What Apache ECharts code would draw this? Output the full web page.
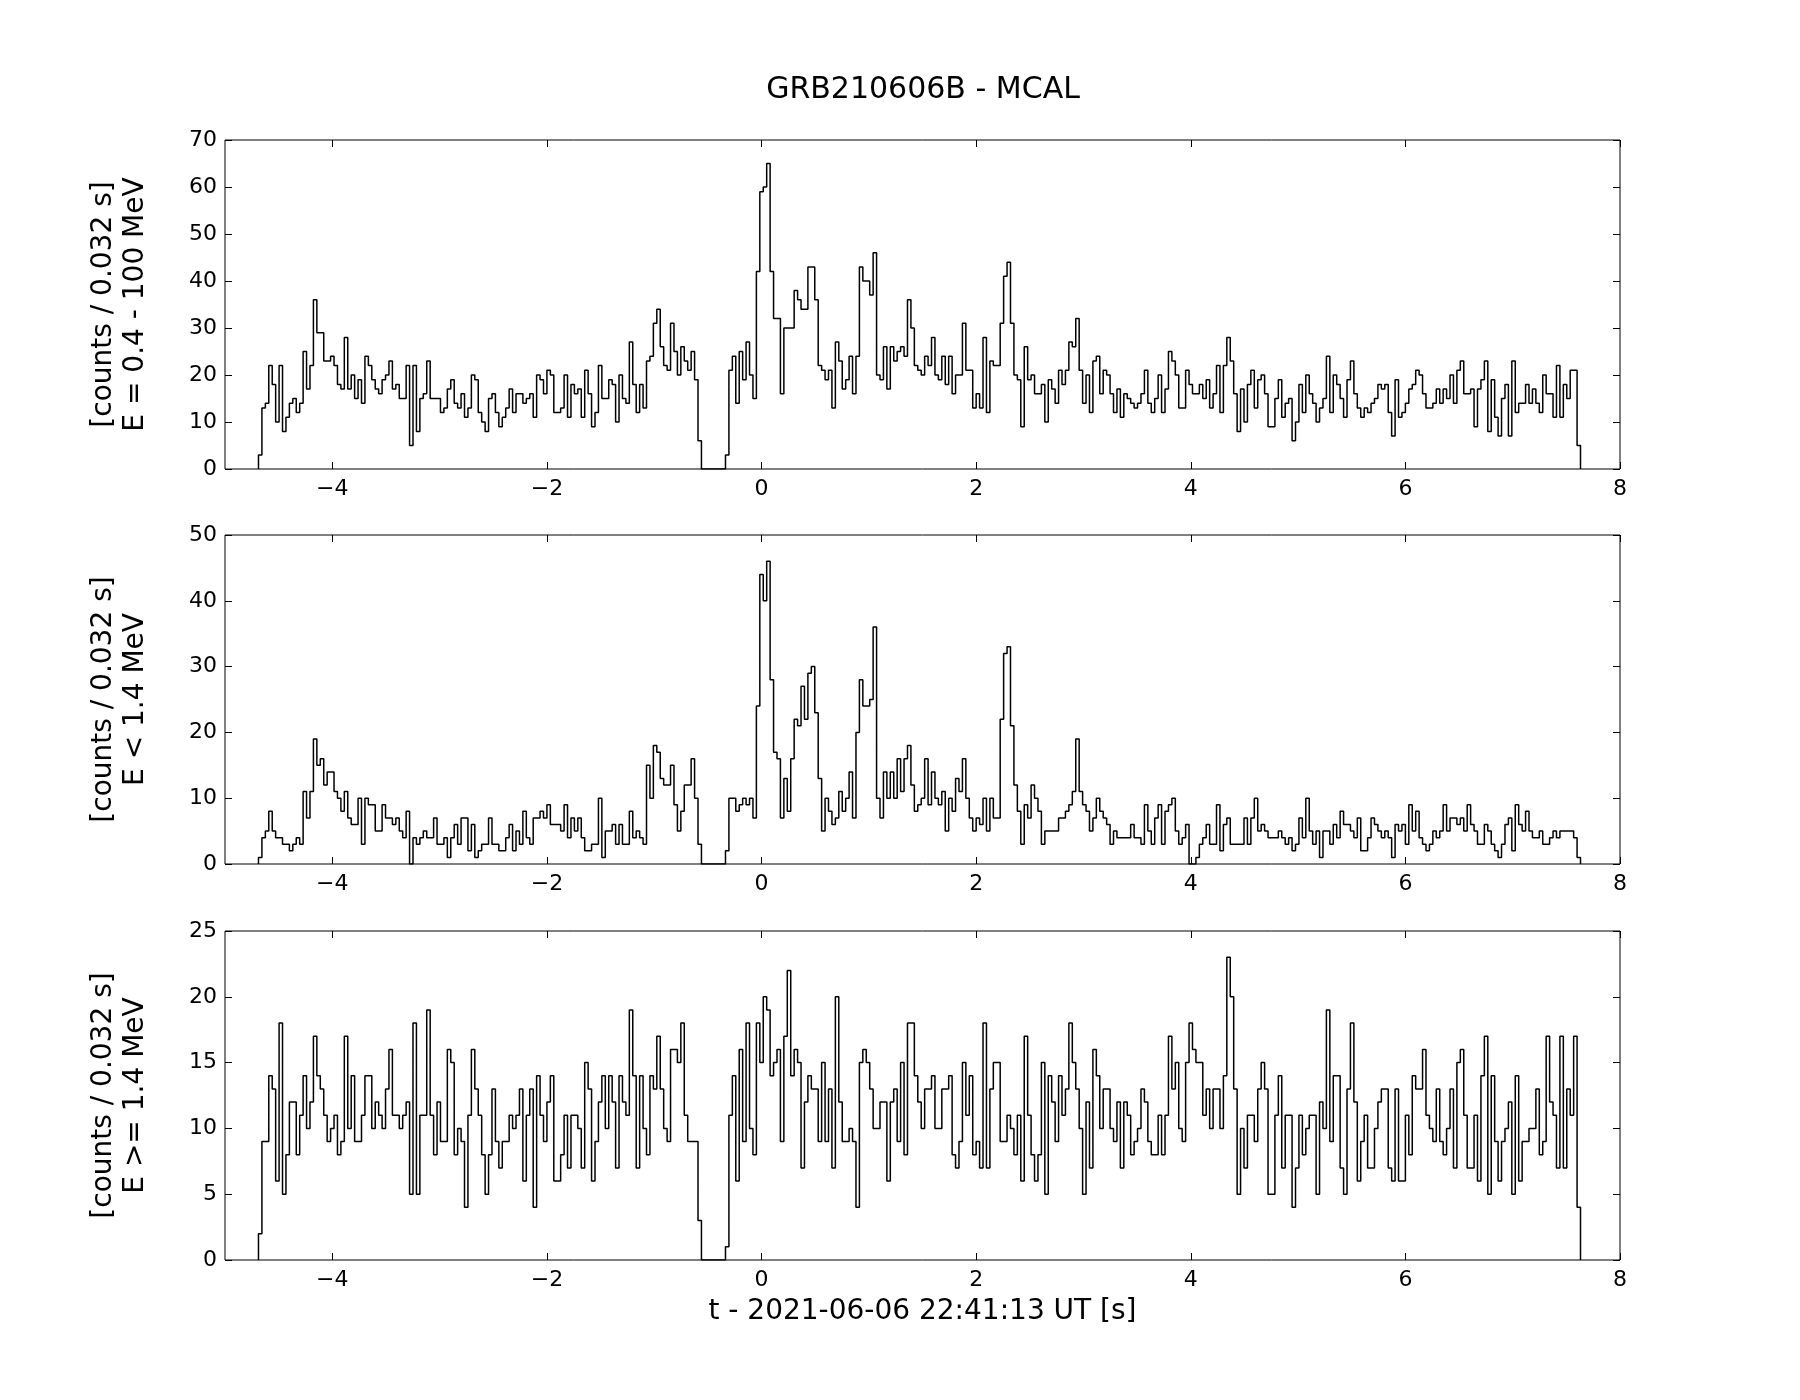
<!DOCTYPE html>
<html><head><meta charset="utf-8">
<script src="https://cdn.jsdelivr.net/npm/echarts@6/dist/echarts.min.js"></script>
<style>html,body{margin:0;padding:0;background:#fff}#c{width:1800px;height:1400px}</style>
</head><body><div id="c"></div>
<script>
// ---- data (bin grid: 0.032 s bins starting at binStart) ----
const binStart = -4.688;
const binWidth = 0.032;

const countsAll = [
  3,13,14,22,18,10,22,8,11,14,
  15,12,14,25,17,22,36,29,29,23,
  23,24,22,18,17,28,17,20,15,19,
  14,24,22,19,17,16,19,20,23,17,
  18,15,15,22,5,22,8,15,16,23,
  15,15,15,12,13,17,19,14,13,16,
  11,13,20,19,12,10,8,15,16,12,
  9,11,13,17,12,16,16,14,15,16,
  11,20,19,16,21,20,12,12,13,20,
  11,18,16,17,11,21,16,9,12,22,
  15,15,19,18,10,20,15,14,27,18,
  12,18,13,23,24,31,34,26,22,21,
  31,25,20,26,23,21,25,19,6,0,
  0,0,0,0,0,0,3,21,24,14,
  25,19,27,20,15,42,59,60,65,42,
  32,32,16,30,30,30,38,36,34,34,
  43,43,36,22,21,19,21,13,27,23,
  17,19,24,16,24,43,40,40,37,46,
  20,19,26,17,26,23,25,26,24,36,
  30,22,21,20,24,22,28,20,19,24,
  18,24,16,20,20,31,21,21,13,16,
  13,28,12,23,22,22,31,41,44,31,
  20,19,9,26,19,20,16,16,18,10,
  19,17,14,21,18,21,27,26,32,21,
  14,20,12,23,24,16,21,20,16,12,
  17,11,16,15,14,13,14,16,21,14,
  12,15,20,12,17,25,23,20,13,13,
  21,18,16,16,18,15,19,13,16,22,
  12,22,28,23,16,8,17,10,18,21,
  13,19,20,16,9,9,15,19,11,14,
  15,6,10,18,12,20,16,14,10,13,
  15,24,12,20,18,15,11,19,23,16,
  13,11,13,12,14,15,18,17,18,12,
  7,19,11,12,14,17,18,21,20,16,
  13,13,14,17,14,17,15,20,14,21,
  23,16,16,17,9,17,19,23,8,19,
  11,7,15,18,7,23,12,14,14,18,
  14,17,14,12,20,16,16,11,22,11,
  18,15,21,21,5
];

const countsLow = [
  1,4,5,8,5,4,4,3,3,2,
  3,4,3,11,7,11,19,15,16,12,
  14,14,11,10,8,11,7,6,6,10,
  3,10,9,9,5,5,9,7,7,6,
  7,5,4,8,0,4,3,4,5,4,
  4,7,3,3,4,1,4,6,3,7,
  7,2,6,1,2,3,3,7,3,3,
  2,2,4,6,2,5,3,8,4,3,
  7,7,8,7,9,6,6,6,5,9,
  4,7,5,7,4,2,2,3,3,10,
  1,5,5,6,3,6,3,3,8,4,
  5,4,3,15,10,18,17,13,12,12,
  15,9,5,8,12,12,16,10,3,0,
  0,0,0,0,0,0,2,10,10,8,
  9,10,9,10,7,24,44,40,46,28,
  17,16,7,13,8,16,22,21,27,22,
  29,30,23,13,5,10,8,6,7,11,
  8,10,14,7,20,28,24,24,25,36,
  10,7,14,10,14,10,16,11,16,18,
  12,8,9,10,16,9,14,10,9,11,
  5,10,8,13,11,16,10,7,5,7,
  6,10,5,10,7,7,22,32,33,21,
  12,8,3,9,7,12,10,8,3,5,
  5,5,5,7,7,8,9,11,19,11,
  9,8,5,7,10,8,7,6,3,5,
  4,4,4,4,6,4,4,3,9,5,
  3,7,9,3,8,9,10,5,3,4,
  6,0,0,1,3,4,6,3,3,9,
  2,6,7,3,3,3,3,7,3,7,
  10,5,6,5,4,4,4,5,4,3,
  4,2,3,7,4,10,5,3,5,1,
  5,5,3,6,4,8,6,6,5,4,
  7,2,2,4,7,6,5,4,5,4,
  1,6,5,6,3,9,5,8,4,3,
  2,3,5,4,5,9,5,7,7,6,
  7,5,9,6,5,3,3,6,5,3,
  2,1,3,6,7,2,9,6,5,8,
  5,4,4,5,3,3,4,5,4,5,
  5,5,5,4,1
];

const countsHigh = [
  2,9,9,14,13,6,18,5,8,12,
  12,8,11,14,10,12,17,14,13,11,
  9,10,11,8,9,17,10,14,9,9,
  11,14,14,10,12,11,10,13,16,11,
  11,10,11,12,5,18,5,11,11,19,
  11,8,12,9,9,16,15,8,10,9,
  4,11,16,13,11,8,5,8,13,9,
  7,9,9,11,10,11,13,6,11,13,
  4,14,11,9,12,14,6,6,8,11,
  7,11,11,10,7,15,13,6,9,12,
  14,10,14,12,7,14,12,11,19,14,
  7,14,10,8,14,13,17,13,10,9,
  16,16,15,18,11,9,9,9,3,0,
  0,0,0,0,0,0,1,11,14,6,
  16,9,18,10,8,18,15,20,19,14,
  15,16,9,17,22,14,16,15,7,12,
  14,13,13,9,15,9,13,7,20,12,
  9,9,10,9,4,15,16,15,13,10,
  10,12,12,6,12,13,9,15,8,18,
  18,14,12,10,13,13,14,10,10,13,
  13,14,8,7,9,15,11,14,8,9,
  7,18,7,13,15,15,9,9,11,10,
  8,11,6,17,11,8,6,8,15,5,
  14,12,9,14,11,13,18,15,13,10,
  5,12,7,16,14,10,13,13,10,9,
  12,7,12,11,8,9,10,13,12,9,
  8,8,11,8,11,17,13,15,10,9,
  15,18,16,15,15,11,13,10,13,13,
  10,14,23,20,13,5,10,7,11,11,
  9,13,15,13,5,5,11,14,7,11,
  11,4,7,11,8,10,11,11,5,12,
  10,19,9,14,14,7,5,13,18,12,
  6,9,11,7,7,10,12,13,13,7,
  6,13,6,6,11,8,14,13,13,16,
  11,10,9,13,9,8,10,13,7,15,
  16,11,7,7,11,6,14,17,5,14,
  9,6,9,10,12,5,14,6,9,9,
  10,10,13,8,9,17,12,11,7,17,
  7,13,11,17,4
];

const xTicks = [-4, -2, 0, 2, 4, 6, 8];
const yMaxes = [70, 50, 25];
const ySteps = [10, 10, 5];
const titleText = 'GRB210606B - MCAL';
const xLabel = 't - 2021-06-06 22:41:13 UT [s]';
const yLabels = [
  '[counts / 0.032 s]\nE = 0.4 - 100 MeV',
  '[counts / 0.032 s]\nE < 1.4 MeV',
  '[counts / 0.032 s]\nE >= 1.4 MeV'
];

// ---- chart ----
const FONT = '"DejaVu Sans", "Liberation Sans", sans-serif';
function stepData(counts) {
  const pts = [[binStart, 0]];
  counts.forEach((v, k) => pts.push([binStart + k * binWidth, v]));
  const end = binStart + counts.length * binWidth;
  pts.push([end, counts[counts.length - 1]]);
  pts.push([end, 0]);
  return pts;
}
const fmtX = v => (v < 0 ? '\u2212' + Math.abs(v) : String(v));

const gridTops = [140, 535, 931];
const gridH = 329;
const grids = [], xAxes = [], yAxes = [], series = [];
const all = [countsAll, countsLow, countsHigh];
for (let i = 0; i < 3; i++) {
  grids.push({left: 225, width: 1395, top: gridTops[i], height: gridH,
    show: true, borderColor: '#000', borderWidth: 1, backgroundColor: 'transparent'});
  const tick = {show: true, inside: true, length: 7, customValues: xTicks, lineStyle: {color: '#000', width: 1}};
  xAxes.push({type: 'value', gridIndex: i, position: 'bottom', min: -5, max: 8,
    axisLine: {show: false, onZero: false}, splitLine: {show: false}, axisTick: tick,
    axisLabel: {show: true, customValues: xTicks, formatter: fmtX, color: '#000', fontSize: 22, fontFamily: FONT, margin: 9},
    name: i === 2 ? xLabel : '', nameLocation: 'middle', nameGap: 38,
    nameTextStyle: {color: '#000', fontSize: 28, fontFamily: FONT}});
  xAxes.push({type: 'value', gridIndex: i, position: 'top', min: -5, max: 8,
    axisLine: {show: false, onZero: false}, splitLine: {show: false}, axisTick: tick,
    axisLabel: {show: false, customValues: xTicks}});
  const ytick = {show: true, inside: true, length: 7, lineStyle: {color: '#000', width: 1}};
  yAxes.push({type: 'value', gridIndex: i, position: 'left', min: 0, max: yMaxes[i], interval: ySteps[i],
    axisLine: {show: false, onZero: false}, splitLine: {show: false}, axisTick: ytick,
    axisLabel: {color: '#000', fontSize: 22, fontFamily: FONT, margin: 8},
    name: yLabels[i], nameLocation: 'middle', nameRotate: 90, nameGap: 73,
    nameTextStyle: {color: '#000', fontSize: 28, fontFamily: FONT, lineHeight: 32}});
  yAxes.push({type: 'value', gridIndex: i, position: 'right', min: 0, max: yMaxes[i], interval: ySteps[i],
    axisLine: {show: false, onZero: false}, splitLine: {show: false}, axisTick: ytick, axisLabel: {show: false}});
  series.push({type: 'line', step: 'end', xAxisIndex: 2 * i, yAxisIndex: 2 * i,
    data: stepData(all[i]), showSymbol: false, symbol: 'none',
    lineStyle: {color: '#000', width: 1.5}, z: 3});
}

const chart = echarts.init(document.getElementById('c'), null, {renderer: 'canvas'});
chart.setOption({
  animation: false,
  backgroundColor: '#fff',
  grid: grids, xAxis: xAxes, yAxis: yAxes, series: series,
  graphic: [{type: 'text', x: 923, y: 90,
    style: {text: titleText, font: '30px ' + FONT, fill: '#000', align: 'center', verticalAlign: 'middle',
      textAlign: 'center', textVerticalAlign: 'middle'}}]
});
</script>
</body></html>
